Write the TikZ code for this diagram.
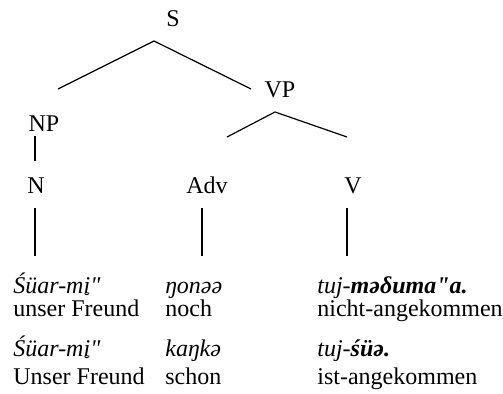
\documentclass[tikz,border=0pt]{standalone}
\usepackage{graphicx}
\usepackage{fontspec}
\setmainfont{Liberation Serif}[Ligatures=TeXOff]
\newcommand\ibrevbelow{\ooalign{i\cr\hidewidth\kern-0.1em\smash{\raisebox{-0.47em}{\scalebox{0.75}{˘}}}\hidewidth\cr}}
\begin{document}
\begin{tikzpicture}[x=0.5pt,y=-0.5pt,
  cat/.style={inner sep=0pt, anchor=base, font=\fontsize{12}{14}\selectfont},
  gloss/.style={inner sep=0pt, anchor=base west, font=\fontsize{12}{14}\selectfont},
  branch/.style={line width=0.6pt}]
\useasboundingbox (0,0) rectangle (503,394);
% tree categories
\node[cat] (S)   at (173,27)  {S};
\node[cat] (VP)  at (280,98)  {VP};
\node[cat] (NP)  at (44,132)  {NP};
\node[cat] (N)   at (36,194)  {N};
\node[cat] (Adv) at (207,194) {Adv};
\node[cat] (V)   at (353,194) {V};
% branch end points
\coordinate (Sa)  at (154,41);
\coordinate (SL)  at (58,89);
\coordinate (SR)  at (251,89);
\coordinate (VPa) at (275,112);
\coordinate (VPL) at (227,137);
\coordinate (VPR) at (347,137);
\coordinate (NPb) at (35,136);
\coordinate (Nt)  at (35,161);
\coordinate (Nb)  at (35,208);
\coordinate (Ne)  at (35,256);
\coordinate (Ab)  at (202,208);
\coordinate (Ae)  at (202,256);
\coordinate (Vb)  at (347,208);
\coordinate (Ve)  at (347,256);
\draw[branch] (SL) -- (Sa) -- (SR);
\draw[branch] (VPL) -- (VPa) -- (VPR);
\draw[branch] (NPb) -- (Nt);
\draw[branch] (Nb) -- (Ne);
\draw[branch] (Ab) -- (Ae);
\draw[branch] (Vb) -- (Ve);
% glosses
\node[gloss] (w1a) at (13,294) {\textit{Śüar-m\ibrevbelow"}};
\node[gloss] (g1a) at (13,317) {unser Freund};
\node[gloss] (w1b) at (13,357) {\textit{Śüar-m\ibrevbelow"}};
\node[gloss] (g1b) at (13,385) {Unser Freund};
\node[gloss] (w2a) at (165,294) {\textit{ŋonəə}};
\node[gloss] (g2a) at (165,317) {noch};
\node[gloss] (w2b) at (165,357) {\textit{kaŋkə}};
\node[gloss] (g2b) at (165,385) {schon};
\node[gloss] (w3a) at (317,294) {\textit{tuj-\textbf{məδuma"a.}}};
\node[gloss] (g3a) at (317,317) {nicht-angekommen};
\node[gloss] (w3b) at (317,357) {\textit{tuj-\textbf{śüə.}}};
\node[gloss] (g3b) at (317,385) {ist-angekommen};
\end{tikzpicture}
\end{document}
